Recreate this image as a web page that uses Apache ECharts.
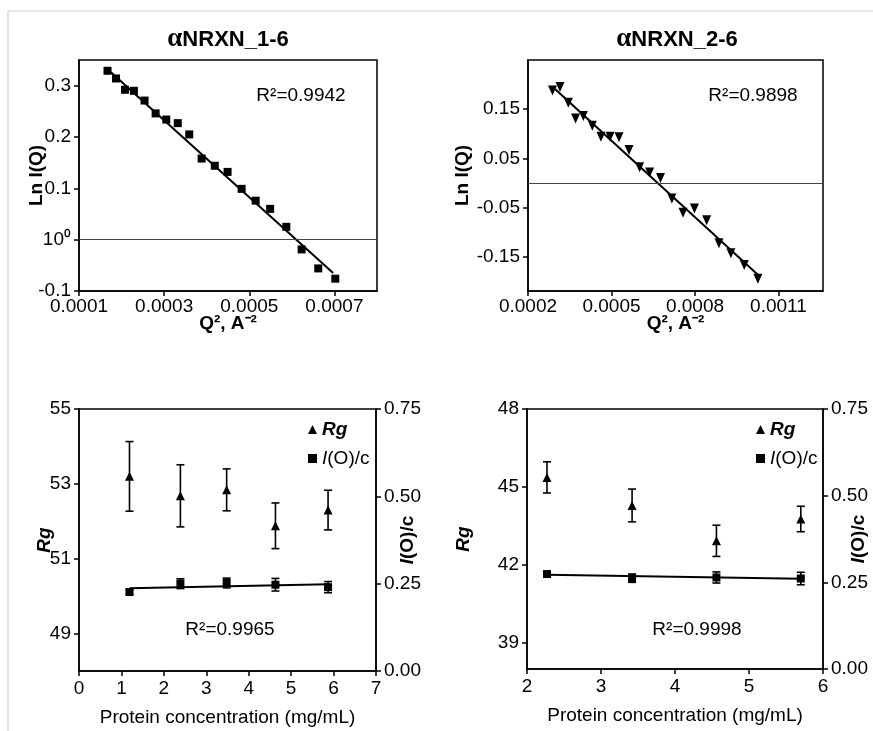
<!DOCTYPE html>
<html>
<head>
<meta charset="utf-8">
<script src="https://cdn.jsdelivr.net/npm/echarts@6/dist/echarts.min.js"></script>
<style>html,body{margin:0;padding:0;background:#fff;}#c{width:873px;height:731px;}</style>
</head>
<body>
<div id="c"></div>
<script>
// ---------- DATA ----------
// Top-left: Guinier plot aNRXN_1-6
const q2_1 = [0.000167,0.000187,0.000208,0.000229,0.000254,0.000280,0.000305,0.000332,0.000359,0.000388,0.000419,0.000449,0.000482,0.000515,0.000549,0.000587,0.000623,0.000662,0.000702];
const lnI_1 = [0.329,0.314,0.292,0.290,0.271,0.246,0.234,0.227,0.205,0.158,0.144,0.132,0.099,0.076,0.060,0.025,-0.019,-0.056,-0.076];
const fit1 = [[0.000175,0.326],[0.000697,-0.065]];
// Top-right: Guinier plot aNRXN_2-6
const q2_2 = [0.000288,0.000315,0.000345,0.000371,0.000399,0.000431,0.000462,0.000495,0.000527,0.000563,0.000601,0.000637,0.000676,0.000717,0.000757,0.000798,0.000842,0.000886,0.000929,0.000977,0.001026];
const lnI_2 = [0.188,0.195,0.163,0.131,0.136,0.116,0.094,0.094,0.093,0.067,0.032,0.021,0.010,-0.032,-0.061,-0.052,-0.076,-0.123,-0.143,-0.167,-0.195];
const fit2 = [[0.000297,0.191],[0.001026,-0.187]];
// Bottom-left: concentration series aNRXN_1-6
const conc1 = [1.19,2.39,3.48,4.63,5.87];
const rg1 = [53.20,52.68,52.84,51.88,52.30];
const rgErr1 = [0.93,0.83,0.56,0.61,0.53];
const ioc1 = [0.226,0.250,0.252,0.247,0.240];
const iocErr1 = [0.006,0.014,0.014,0.018,0.016];
const iocFit1 = [[1.19,0.237],[5.87,0.248]];
// Bottom-right: concentration series aNRXN_2-6
const conc2 = [2.27,3.42,4.56,5.70];
const rg2 = [45.37,44.29,42.93,43.77];
const rgErr2 = [0.60,0.63,0.60,0.49];
const ioc2 = [0.274,0.262,0.264,0.261];
const iocErr2 = [0.006,0.012,0.016,0.018];
const iocFit2 = [[2.27,0.272],[5.70,0.260]];
// Tick labels
const tlXTicks = [0.0001,0.0003,0.0005,0.0007];
const tlYTicks = [-0.1,0,0.1,0.2,0.3];
const trXTicks = [0.0002,0.0005,0.0008,0.0011];
const trYTicks = [-0.15,-0.05,0.05,0.15];
const blXTicks = [0,1,2,3,4,5,6,7];
const blRgTicks = [49,51,53,55];
const brXTicks = [2,3,4,5,6];
const brRgTicks = [39,42,45,48];
const iocTicks = [0,0.25,0.5,0.75];
const r2Text = ['R²=0.9942','R²=0.9898','R²=0.9965','R²=0.9998'];
const titles = ['NRXN_1-6','NRXN_2-6'];

// ---------- HELPERS ----------
const FONT = 'Liberation Sans, Arial, sans-serif';
const FS = 19;
function pair(xs, ys){ return xs.map((x,i)=>[x, ys[i]]); }
function errData(xs, ys, es){ return xs.map((x,i)=>[x, ys[i]-es[i], ys[i]+es[i]]); }
function axisBase(ticks, fmt, extra){
  return Object.assign({
    type:'value', scale:false,
    axisLine:{show:true, onZero:false, lineStyle:{color:'#000', width:1.5}},
    axisTick:{show:true, length:5, lineStyle:{color:'#000', width:1.5}, customValues:ticks},
    axisLabel:{color:'#000', fontFamily:FONT, fontSize:FS, customValues:ticks, formatter:fmt, margin:8},
    splitLine:{show:false},
    nameTextStyle:{color:'#000', fontFamily:FONT, fontSize:FS, fontWeight:'bold'},
    nameLocation:'middle',
    nameMoveOverlap:false
  }, extra);
}
function errRender(params, api){
  const x = api.value(0);
  const lo = api.coord([x, api.value(1)]);
  const hi = api.coord([x, api.value(2)]);
  const w = 4;
  const st = {stroke:'#000', lineWidth:1.6};
  return {type:'group', children:[
    {type:'line', shape:{x1:hi[0], y1:hi[1], x2:lo[0], y2:lo[1]}, style:st},
    {type:'line', shape:{x1:hi[0]-w, y1:hi[1], x2:hi[0]+w, y2:hi[1]}, style:st},
    {type:'line', shape:{x1:lo[0]-w, y1:lo[1], x2:lo[0]+w, y2:lo[1]}, style:st}
  ]};
}
const zeroLine = {silent:true, symbol:'none', label:{show:false}, lineStyle:{color:'#444', width:1, type:'solid'}, data:[{yAxis:0}]};
const mk = {color:'#000', opacity:1};
const iocName = {color:'#000', fontFamily:FONT, fontSize:FS, fontWeight:'bold', rich:{i:{fontFamily:FONT, fontSize:FS, fontWeight:'bold', fontStyle:'italic', color:'#000'}}};
const rgName = {color:'#000', fontFamily:FONT, fontSize:FS, fontWeight:'bold', fontStyle:'italic'};
const titleRich = {a:{fontFamily:'Liberation Serif, serif', fontSize:27, color:'#000'}, b:{fontFamily:FONT, fontSize:22, fontWeight:'bold', color:'#000'}};
const legendText = {color:'#000', fontFamily:FONT, fontSize:FS, rich:{rg:{fontFamily:FONT, fontSize:FS, fontWeight:'bold', fontStyle:'italic', color:'#000'}, i:{fontFamily:FONT, fontSize:FS, fontStyle:'italic', color:'#000'}}};
const topXLabel = {color:'#000', fontFamily:FONT, fontSize:FS, margin:6};

const chart = echarts.init(document.getElementById('c'), null, {renderer:'canvas'});
const gridBase = {show:true, borderColor:'#000', borderWidth:1.5, backgroundColor:'transparent', containLabel:false};

const option = {
  animation:false,
  backgroundColor:'#fff',
  textStyle:{fontFamily:FONT},
  title:[
    {text:'{a|α}{b|'+titles[0]+'}', left:223, top:21, textAlign:'center', textStyle:{rich:titleRich}},
    {text:'{a|α}{b|'+titles[1]+'}', left:672, top:21, textAlign:'center', textStyle:{rich:titleRich}}
  ],
  grid:[
    Object.assign({left:79, top:60, width:298, height:231}, gridBase),
    Object.assign({left:528, top:60, width:295, height:231}, gridBase),
    Object.assign({left:79, top:409, width:297, height:262}, gridBase),
    Object.assign({left:527, top:409, width:296, height:260}, gridBase)
  ],
  xAxis:[
    axisBase(tlXTicks, v=>v.toFixed(4), {gridIndex:0, min:0.0001, max:0.0008, name:'Q², A⁻²', nameGap:23,
      axisLabel:Object.assign({customValues:tlXTicks, formatter:v=>v.toFixed(4)}, topXLabel)}),
    axisBase(trXTicks, v=>v.toFixed(4), {gridIndex:1, min:0.0002, max:0.00126, name:'Q², A⁻²', nameGap:23,
      axisLabel:Object.assign({customValues:trXTicks, formatter:v=>v.toFixed(4)}, topXLabel)}),
    axisBase(blXTicks, v=>String(v), {gridIndex:2, min:0, max:7, name:'Protein concentration (mg/mL)', nameGap:37,
      nameTextStyle:{color:'#000', fontFamily:FONT, fontSize:FS}}),
    axisBase(brXTicks, v=>String(v), {gridIndex:3, min:2, max:6, name:'Protein concentration (mg/mL)', nameGap:37,
      nameTextStyle:{color:'#000', fontFamily:FONT, fontSize:FS}})
  ],
  yAxis:[
    axisBase(tlYTicks, v=>(Math.abs(v)<1e-9?'10⁰':v.toFixed(1)), {gridIndex:0, min:-0.1, max:0.35, name:'Ln I(Q)', nameGap:33, nameRotate:90}),
    axisBase(trYTicks, v=>v.toFixed(2), {gridIndex:1, min:-0.22, max:0.25, name:'Ln I(Q)', nameGap:56, nameRotate:90}),
    axisBase(blRgTicks, v=>String(v), {gridIndex:2, min:48, max:55, name:'Rg', nameGap:25, nameRotate:90, nameTextStyle:rgName}),
    axisBase(iocTicks, v=>v.toFixed(2), {gridIndex:2, min:0, max:0.75, position:'right', name:'{i|I}(O)/c', nameGap:22, nameRotate:90, nameTextStyle:iocName}),
    axisBase(brRgTicks, v=>String(v), {gridIndex:3, min:38, max:48, name:'Rg', nameGap:54, nameRotate:90, nameTextStyle:rgName}),
    axisBase(iocTicks, v=>v.toFixed(2), {gridIndex:3, min:0, max:0.75, position:'right', name:'{i|I}(O)/c', nameGap:26, nameRotate:90, nameTextStyle:iocName})
  ],
  legend:[
    {orient:'vertical', left:303, top:415, itemWidth:9, itemHeight:9, itemGap:10, data:[{name:'Rg', icon:'triangle'},{name:'I(O)/c', icon:'rect'}],
     formatter:n=>n==='Rg'?'{rg|Rg}':'{i|I}(O)/c', textStyle:legendText},
    {orient:'vertical', left:751, top:415, itemWidth:9, itemHeight:9, itemGap:10, data:[{name:'Rg', icon:'triangle'},{name:'I(O)/c', icon:'rect'}],
     formatter:n=>n==='Rg'?'{rg|Rg}':'{i|I}(O)/c', textStyle:legendText}
  ],
  graphic:[
    {type:'line', shape:{x1:8, y1:11, x2:873, y2:11}, style:{stroke:'#cccccc', lineWidth:1}, silent:true},
    {type:'line', shape:{x1:8, y1:11, x2:8, y2:731}, style:{stroke:'#cccccc', lineWidth:1}, silent:true},
    {type:'text', x:301, y:96, style:{text:r2Text[0], fill:'#000', font:FS+'px '+FONT, align:'center', verticalAlign:'middle'}},
    {type:'text', x:753, y:96, style:{text:r2Text[1], fill:'#000', font:FS+'px '+FONT, align:'center', verticalAlign:'middle'}},
    {type:'text', x:230, y:630, style:{text:r2Text[2], fill:'#000', font:FS+'px '+FONT, align:'center', verticalAlign:'middle'}},
    {type:'text', x:697, y:630, style:{text:r2Text[3], fill:'#000', font:FS+'px '+FONT, align:'center', verticalAlign:'middle'}}
  ],
  series:[
    {type:'scatter', xAxisIndex:0, yAxisIndex:0, data:pair(q2_1, lnI_1), symbol:'rect', symbolSize:8, itemStyle:mk, markLine:zeroLine, z:3},
    {type:'line', xAxisIndex:0, yAxisIndex:0, data:fit1, symbol:'none', lineStyle:{color:'#000', width:2}, z:4},
    {type:'scatter', xAxisIndex:1, yAxisIndex:1, data:pair(q2_2, lnI_2), symbol:'triangle', symbolRotate:180, symbolSize:[9,10], itemStyle:mk, markLine:zeroLine, z:3},
    {type:'line', xAxisIndex:1, yAxisIndex:1, data:fit2, symbol:'none', lineStyle:{color:'#000', width:2}, z:4},
    // bottom-left
    {name:'Rg', type:'scatter', xAxisIndex:2, yAxisIndex:2, data:pair(conc1, rg1), symbol:'triangle', symbolSize:[9,9], itemStyle:mk},
    {type:'custom', xAxisIndex:2, yAxisIndex:2, data:errData(conc1, rg1, rgErr1), renderItem:errRender, encode:{x:0, y:[1,2]}, silent:true},
    {name:'I(O)/c', type:'scatter', xAxisIndex:2, yAxisIndex:3, data:pair(conc1, ioc1), symbol:'rect', symbolSize:8, itemStyle:mk},
    {type:'custom', xAxisIndex:2, yAxisIndex:3, data:errData(conc1, ioc1, iocErr1), renderItem:errRender, encode:{x:0, y:[1,2]}, silent:true},
    {type:'line', xAxisIndex:2, yAxisIndex:3, data:iocFit1, symbol:'none', lineStyle:{color:'#000', width:2}},
    // bottom-right
    {name:'Rg', type:'scatter', xAxisIndex:3, yAxisIndex:4, data:pair(conc2, rg2), symbol:'triangle', symbolSize:[9,9], itemStyle:mk},
    {type:'custom', xAxisIndex:3, yAxisIndex:4, data:errData(conc2, rg2, rgErr2), renderItem:errRender, encode:{x:0, y:[1,2]}, silent:true},
    {name:'I(O)/c', type:'scatter', xAxisIndex:3, yAxisIndex:5, data:pair(conc2, ioc2), symbol:'rect', symbolSize:8, itemStyle:mk},
    {type:'custom', xAxisIndex:3, yAxisIndex:5, data:errData(conc2, ioc2, iocErr2), renderItem:errRender, encode:{x:0, y:[1,2]}, silent:true},
    {type:'line', xAxisIndex:3, yAxisIndex:5, data:iocFit2, symbol:'none', lineStyle:{color:'#000', width:2}}
  ]
};
chart.setOption(option);
</script>
</body>
</html>
